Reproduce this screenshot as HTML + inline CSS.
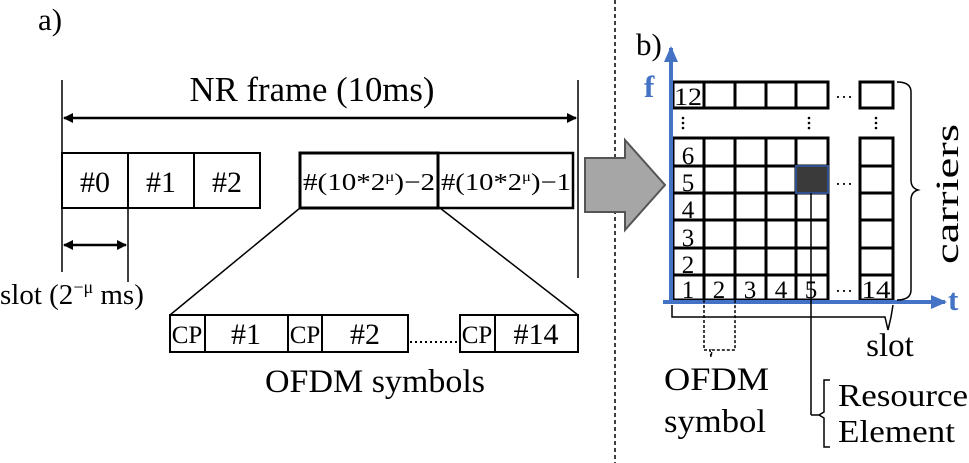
<!DOCTYPE html>
<html><head><meta charset="utf-8"><style>
html,body{margin:0;padding:0;background:#fff;}
svg{display:block;}
svg text{font-family:"Liberation Serif","Times New Roman",serif;}
</style></head><body>
<svg width="969" height="463" viewBox="0 0 969 463" xmlns="http://www.w3.org/2000/svg" font-family="Liberation Serif, serif">
<defs>
<marker id="ah" markerWidth="10" markerHeight="10" refX="9" refY="5" orient="auto-start-reverse" markerUnits="userSpaceOnUse"><path d="M0,0 L10,5 L0,10 z" fill="#000"/></marker>
<marker id="bh" markerWidth="16" markerHeight="14" refX="14" refY="7" orient="auto" markerUnits="userSpaceOnUse"><path d="M0,0 L16,7 L0,14 z" fill="#4472c4"/></marker>
</defs>
<line x1="615" y1="0" x2="615" y2="463" stroke="#000" stroke-width="1.5" stroke-dasharray="4,3"/>
<text x="38" y="30" font-size="31">a)</text>
<text x="312" y="101" font-size="35" text-anchor="middle" textLength="245" lengthAdjust="spacingAndGlyphs">NR frame (10ms)</text>
<line x1="64" y1="118" x2="576" y2="118" stroke="#000" stroke-width="2.5" marker-start="url(#ah)" marker-end="url(#ah)"/>
<line x1="62" y1="80" x2="62" y2="272" stroke="#000" stroke-width="1.5"/>
<line x1="578" y1="80" x2="578" y2="278" stroke="#000" stroke-width="1.5"/>
<g fill="none" stroke="#000" stroke-width="2">
<rect x="62" y="153" width="66" height="55"/><rect x="128" y="153" width="66" height="55"/><rect x="194" y="153" width="66" height="55"/>
<rect x="300" y="153" width="138" height="55" stroke-width="3"/><rect x="438" y="153" width="135" height="55" stroke-width="2.5"/>
</g>
<g font-size="30" text-anchor="middle"><text x="95" y="192">#0</text><text x="161" y="192">#1</text><text x="227" y="192">#2</text></g>
<g font-size="24"><text x="303" y="190" textLength="132" lengthAdjust="spacingAndGlyphs">#(10*2<tspan font-size="14" dy="-9">μ</tspan><tspan dy="9">)−2</tspan></text><text x="441" y="190" textLength="130" lengthAdjust="spacingAndGlyphs">#(10*2<tspan font-size="14" dy="-9">μ</tspan><tspan dy="9">)−1</tspan></text></g>
<line x1="128" y1="208" x2="128" y2="282" stroke="#000" stroke-width="1.5"/>
<line x1="64" y1="245" x2="126" y2="245" stroke="#000" stroke-width="2.5" marker-start="url(#ah)" marker-end="url(#ah)"/>
<text x="0" y="304" font-size="29">slot (2<tspan font-size="18" dy="-11">−μ</tspan><tspan dy="11"> ms)</tspan></text>
<line x1="300" y1="208" x2="170" y2="315" stroke="#000" stroke-width="1.5"/>
<line x1="440" y1="208" x2="578" y2="315" stroke="#000" stroke-width="1.5"/>
<g fill="none" stroke="#000" stroke-width="2">
<rect x="170" y="315" width="35" height="37"/><rect x="205" y="315" width="83" height="37"/>
<rect x="288" y="315" width="34" height="37"/><rect x="322" y="315" width="86" height="37"/>
<rect x="460" y="315" width="35" height="37"/><rect x="495" y="315" width="83" height="37"/>
</g>
<line x1="410" y1="342" x2="459" y2="342" stroke="#000" stroke-width="2" stroke-dasharray="2,3"/>
<g font-size="25" text-anchor="middle"><text x="187" y="343">CP</text><text x="305" y="343">CP</text><text x="477" y="343">CP</text></g>
<g font-size="30" text-anchor="middle"><text x="246" y="344">#1</text><text x="365" y="344">#2</text><text x="536" y="344">#14</text></g>
<text x="375" y="392" font-size="33" text-anchor="middle" textLength="220" lengthAdjust="spacingAndGlyphs">OFDM symbols</text>
<path d="M585,158 L625,158 L625,140 L665,185 L625,230 L625,212 L585,212 Z" fill="#a6a6a6" stroke="#555" stroke-width="2"/>
<text x="636" y="55" font-size="31">b)</text>
<text x="644" y="97" font-size="31" fill="#4472c4" font-weight="bold">f</text>
<text x="948" y="310" font-size="31" fill="#4472c4" font-weight="bold">t</text>
<g stroke="#000" stroke-width="3" fill="#fff">
<rect x="673" y="82" width="155" height="26"/>
<rect x="860" y="82" width="33" height="26"/>
<rect x="673" y="138" width="155" height="162"/>
<rect x="860" y="138" width="33" height="162"/>
</g>
<g stroke="#000" stroke-width="3">
<line x1="704" y1="82" x2="704" y2="108"/><line x1="735" y1="82" x2="735" y2="108"/><line x1="766" y1="82" x2="766" y2="108"/><line x1="796" y1="82" x2="796" y2="108"/>
<line x1="704" y1="138" x2="704" y2="300"/><line x1="735" y1="138" x2="735" y2="300"/><line x1="766" y1="138" x2="766" y2="300"/><line x1="796" y1="138" x2="796" y2="300"/>
<line x1="673" y1="166" x2="828" y2="166"/><line x1="673" y1="193" x2="828" y2="193"/><line x1="673" y1="220" x2="828" y2="220"/><line x1="673" y1="248" x2="828" y2="248"/><line x1="673" y1="275" x2="828" y2="275"/>
<line x1="860" y1="166" x2="893" y2="166"/><line x1="860" y1="193" x2="893" y2="193"/><line x1="860" y1="220" x2="893" y2="220"/><line x1="860" y1="248" x2="893" y2="248"/><line x1="860" y1="275" x2="893" y2="275"/>
</g>
<rect x="796" y="166" width="32" height="27" fill="#3a3a3a" stroke="#2f4f8f" stroke-width="2"/>
<g font-size="25" text-anchor="middle">
<text x="688" y="105" textLength="28" lengthAdjust="spacingAndGlyphs">12</text><text x="688" y="164">6</text><text x="688" y="191">5</text><text x="688" y="218">4</text><text x="688" y="246">3</text><text x="688" y="273">2</text>
<text x="688" y="298">1</text><text x="719" y="298">2</text><text x="750" y="298">3</text><text x="781" y="298">4</text><text x="811" y="298">5</text><text x="876" y="298" textLength="29" lengthAdjust="spacingAndGlyphs">14</text>
</g>
<g font-size="18" text-anchor="middle"><text x="844" y="98">…</text><text x="844" y="185">…</text><text x="844" y="292">…</text></g>
<g fill="#000"><circle cx="683" cy="118" r="1.3"/><circle cx="683" cy="123" r="1.3"/><circle cx="683" cy="128" r="1.3"/>
<circle cx="809" cy="118" r="1.3"/><circle cx="809" cy="123" r="1.3"/><circle cx="809" cy="128" r="1.3"/>
<circle cx="876" cy="118" r="1.3"/><circle cx="876" cy="123" r="1.3"/><circle cx="876" cy="128" r="1.3"/></g>
<line x1="671" y1="300" x2="671" y2="48" stroke="#4472c4" stroke-width="4" marker-end="url(#bh)"/>
<line x1="663" y1="302" x2="945" y2="302" stroke="#4472c4" stroke-width="4" marker-end="url(#bh)"/>
<path d="M897,82 Q911,82 911,92 L911,180 Q911,188 918,190 Q911,192 911,200 L911,290 Q911,300 897,300" fill="none" stroke="#000" stroke-width="1.5"/>
<text transform="translate(958,194) rotate(-90)" font-size="33" text-anchor="middle" textLength="140" lengthAdjust="spacingAndGlyphs">carriers</text>
<path d="M672,305 L672,317 L885,317 L888,330 L891,317 L893,305" fill="none" stroke="#000" stroke-width="1.5"/>
<text x="890" y="356" font-size="33" text-anchor="middle">slot</text>
<path d="M704,300 L704,350 L710,350 L711,357 L712,350 L735,350 L735,300" fill="none" stroke="#000" stroke-width="1.5" stroke-dasharray="3,2"/>
<text x="664" y="390" font-size="33" textLength="105" lengthAdjust="spacingAndGlyphs">OFDM</text>
<text x="664" y="432" font-size="33" textLength="102" lengthAdjust="spacingAndGlyphs">symbol</text>
<line x1="811" y1="193" x2="811" y2="415" stroke="#000" stroke-width="1.5"/>
<path d="M811,415 L820,415 M830,380 L824,380 L824,412 L819,415 L824,418 L824,447 L830,447" fill="none" stroke="#000" stroke-width="1.5"/>
<text x="838" y="406" font-size="32" textLength="130" lengthAdjust="spacingAndGlyphs">Resource</text>
<text x="838" y="442" font-size="32" textLength="117" lengthAdjust="spacingAndGlyphs">Element</text>
</svg>
</body></html>
